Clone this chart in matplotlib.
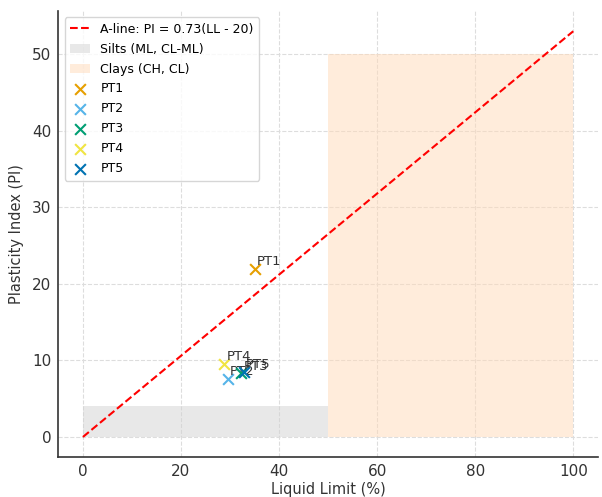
import matplotlib.pyplot as plt

# A-line as drawn in the chart
aline_ll = [0, 100]
aline_pi = [0, 53]

# zones
silt_ll = [0, 50]
silt_pi = 4
clay_ll = [50, 100]
clay_pi = 50

# samples
names = ['PT1', 'PT2', 'PT3', 'PT4', 'PT5']
ll = [35.0, 29.5, 32.2, 28.8, 32.8]
pi = [22.0, 7.6, 8.3, 9.5, 8.5]
colors = ['#E69F00', '#56B4E9', '#009E73', '#F0E442', '#0072B2']

fig, ax = plt.subplots(figsize=(6.02, 4.97), dpi=100)
fig.subplots_adjust(left=0.097, right=0.993, top=0.978, bottom=0.08)

ax.plot(aline_ll, aline_pi, 'r--', lw=1.5, label='A-line: PI = 0.73(LL - 20)')
ax.fill_between(silt_ll, 0, silt_pi, color='lightgray', alpha=0.5, lw=0, label='Silts (ML, CL-ML)')
ax.fill_between(clay_ll, 0, clay_pi, color='peachpuff', alpha=0.5, lw=0, label='Clays (CH, CL)')

for n, x, y, c in zip(names, ll, pi, colors):
    ax.scatter(x, y, marker='x', s=60, color=c, label=n, zorder=3)
    ax.text(x + 0.5, y + 0.5, n, fontsize=9.5, color='#333333')

ax.set_xlabel('Liquid Limit (%)', fontsize=10.5, color='#333333', labelpad=2)
ax.set_ylabel('Plasticity Index (PI)', fontsize=10.5, color='#333333', labelpad=6)
ax.tick_params(length=0, labelsize=11, colors='#333333', pad=5)
ax.grid(True, ls='--', color='#dddddd', lw=0.8)
ax.set_axisbelow(True)
for s in ['top', 'right']:
    ax.spines[s].set_visible(False)
for s in ['left', 'bottom']:
    ax.spines[s].set_color('#333333')
    ax.spines[s].set_linewidth(1.2)

leg = ax.legend(loc='upper left', fontsize=9, frameon=True, handlelength=1.6,
                labelspacing=0.55, borderpad=0.45)
leg.get_frame().set_edgecolor('#cccccc')

plt.savefig('out.png')
